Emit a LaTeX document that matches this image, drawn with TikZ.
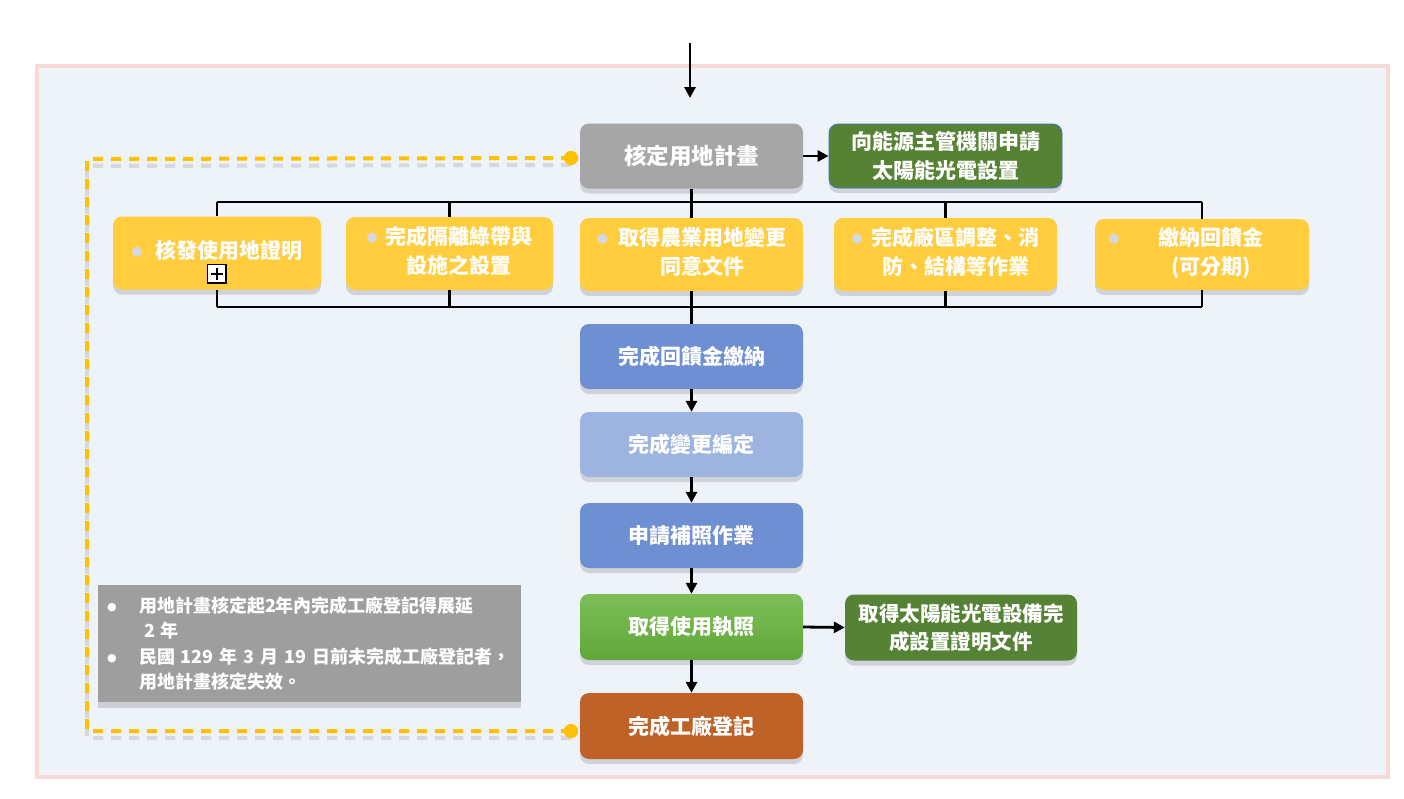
\documentclass[tikz,border=0pt]{standalone}
\usepackage{fontspec}
\setmainfont{Noto Sans CJK TC}
\newfontfamily\dejavu{DejaVu Sans}
\usetikzlibrary{arrows.meta,shadows,calc}
\definecolor{panelfill}{HTML}{EEF3FA}
\definecolor{panelline}{HTML}{F7D9D5}
\definecolor{boxgray}{HTML}{A6A6A6}
\definecolor{darkgreen}{HTML}{558235}
\definecolor{boxyellow}{HTML}{FFCD3D}
\definecolor{boxblue}{HTML}{6E8FD1}
\definecolor{boxlightblue}{HTML}{9DB4E1}
\definecolor{greentop}{HTML}{7DBE58}
\definecolor{greenbot}{HTML}{60A739}
\definecolor{boxorange}{HTML}{BE6228}
\definecolor{dashorange}{HTML}{FFC000}
\definecolor{notegray}{HTML}{9E9E9E}
\definecolor{bulgray}{HTML}{D6D8DC}
\definecolor{edgeblue}{HTML}{4472C4}
\newcommand{\ybul}{\raisebox{3pt}{{\dejavu\fontsize{13}{13}\selectfont\color{bulgray}●}}}
\newcommand{\nbul}{\makebox[33pt][l]{\hspace{1pt}\raisebox{2pt}{{\dejavu\fontsize{11}{11}\selectfont ●}}}}
\tikzset{
  flowbox/.style={rectangle, rounded corners=9pt, minimum width=223pt, minimum height=65pt,
    text=white, font=\fontsize{21}{29}\selectfont\bfseries, align=center, inner sep=2pt,
    drop shadow={opacity=.28, shadow xshift=0pt, shadow yshift=-5pt}},
  ybox/.style={flowbox, fill=boxyellow, minimum height=73pt},
  conn/.style={line width=2.8pt, black},
  arr/.style={conn, -{Triangle[length=11pt,width=11pt]}},
  dashconn/.style={dashorange, line width=4pt, dash pattern=on 10pt off 8pt,
    preaction={draw=black!45, opacity=.25, line width=4pt, dash pattern=on 10pt off 8pt, transform canvas={yshift=-7pt}}},
  enddot/.style={circle, fill=dashorange, inner sep=0pt, minimum size=14pt},
}
\begin{document}
\begin{tikzpicture}[x=1pt,y=-1pt]
\useasboundingbox (0,0) rectangle (1404,798);
% panel
\draw[fill=panelfill, draw=panelline, line width=4.5pt] (37,66) rectangle (1388,777);
% incoming arrow
\coordinate (in0) at (690,43);
\coordinate (in1) at (690,98);
\draw[arr] (in0) -- (in1);
% top row
\node[flowbox, fill=boxgray, font=\fontsize{22.5}{29}\selectfont\bfseries] (plan) at (691.5,156) {核定用地計畫};
\node[flowbox, fill=darkgreen, draw=edgeblue, line width=0.8pt, minimum width=233pt, minimum height=64pt] (energy) at (945.5,156) {向能源主管機關申請\\太陽能光電設置};
\draw[arr] (plan.east) -- (energy.west);
% yellow boxes
\node[ybox, minimum width=208pt] (y1) at (217,253) {\ybul\hspace{13pt}\begin{tabular}[t]{@{}c@{}}核發使用地證明\end{tabular}};
\node[ybox, minimum width=207pt] (y2) at (449.5,253.5) {\ybul\hspace{8pt}\begin{tabular}[t]{@{}c@{}}完成隔離綠帶與\\設施之設置\end{tabular}};
\node[ybox] (y3) at (691.5,254.5) {\ybul\hspace{10pt}\begin{tabular}[t]{@{}c@{}}取得農業用地變更\\同意文件\end{tabular}};
\node[ybox] (y4) at (945.5,254.5) {\ybul\hspace{9pt}\begin{tabular}[t]{@{}c@{}}完成廠區調整、消\\防、結構等作業\end{tabular}};
\node[ybox, minimum width=214pt, minimum height=71pt] (y5) at (1202,254.5) {\ybul\hspace{39pt}\begin{tabular}[t]{@{}c@{}}繳納回饋金\\(可分期)\end{tabular}\hspace{32pt}};
% bus lines
\coordinate (bt) at (691.5,202);
\coordinate (bb) at (691.5,307);
\draw[conn] (plan.south) -- (bt);
\draw[conn] (y1.north |- bt) -- (y5.north |- bt);
\draw[conn] (y1.south |- bb) -- (y5.south |- bb);
\foreach \n in {y1,y2,y3,y4,y5}{
  \draw[conn] (\n.north |- bt) -- (\n.north);
  \draw[conn] (\n.south) -- (\n.south |- bb);
}
% icon
\draw[fill=white, draw=black, line width=1.6pt] (207.5,264.5) rectangle (226,283);
\draw[black, line width=1.5pt] (210.5,273.75) -- (223,273.75) (216.75,267.5) -- (216.75,280);
% central column
\node[flowbox, fill=boxblue] (fee) at (691.5,356.5) {完成回饋金繳納};
\node[flowbox, fill=boxlightblue] (rezone) at (691.5,444.5) {完成變更編定};
\node[flowbox, fill=boxblue] (permit) at (691.5,535.5) {申請補照作業};
\node[flowbox, top color=greentop, bottom color=greenbot, minimum height=66pt] (license) at (691.5,627) {取得使用執照};
\node[flowbox, fill=darkgreen, minimum width=232pt, minimum height=66pt, font=\fontsize{20.5}{28}\selectfont\bfseries] (cert) at (961,627.5) {取得太陽能光電設備完\\成設置證明文件};
\node[flowbox, fill=boxorange, minimum height=66pt] (reg) at (691.5,726) {完成工廠登記};
\draw[conn] (bb) -- (fee.north);
\draw[arr] (fee.south) -- (rezone.north);
\draw[arr] (rezone.south) -- (permit.north);
\draw[arr] (permit.south) -- (license.north);
\draw[arr] (license.south) -- (reg.north);
\draw[arr] (license.east) -- (cert.west);
% note
\node[rectangle, fill=notegray, minimum width=423pt, minimum height=117pt, text width=407pt, inner sep=8pt,
  align=left, text=white, font=\fontsize{18}{25.5}\selectfont\bfseries,
  drop shadow={opacity=.3, shadow xshift=0pt, shadow yshift=-6pt}] (note) at (309.5,643.5)
  {\nbul 用地計畫核定起2年內完成工廠登記得展延\\
   \hspace*{38pt}2 年\\
   \nbul 民國 129 年 3 月 19 日前未完成工廠登記者，\\
   \hspace*{33pt}用地計畫核定失效。};
% dashed loop
\node[enddot] (dotA) at (571,158) {};
\node[enddot] (dotB) at (571,731) {};
\coordinate (corner) at (87,159);
\draw[dashconn] (dotA.center) -- (corner) |- (dotB.center);
\node[enddot] at (dotA) {};
\node[enddot] at (dotB) {};
\end{tikzpicture}
\end{document}
